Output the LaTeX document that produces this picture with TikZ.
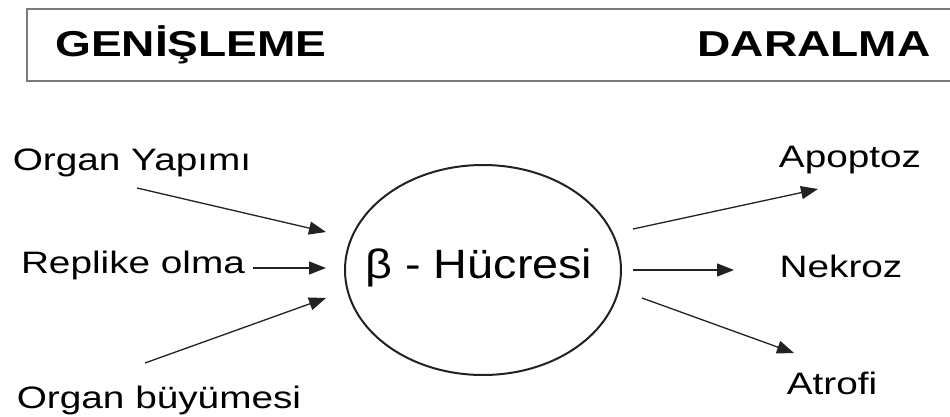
\documentclass[tikz,border=0pt]{standalone}
\usepackage{fontspec}
\setmainfont{Liberation Sans}
\newfontfamily\lblfont[FakeStretch=1.25]{Liberation Sans}
\newfontfamily\hdrfont[FakeStretch=1.28]{Liberation Sans}
\newfontfamily\cellfont[FakeStretch=1.14]{Liberation Sans}
\usetikzlibrary{arrows.meta,shapes.geometric}
\definecolor{ink}{HTML}{222222}
\definecolor{boxgray}{HTML}{7A7A7A}
\tikzset{
  lbl/.style={anchor=base, inner sep=0pt, font=\lblfont\fontsize{31}{31}\selectfont, text=black},
  hdr/.style={anchor=base, inner sep=0pt, font=\hdrfont\bfseries\fontsize{36}{36}\selectfont, text=black},
  conn/.style={draw=ink, line width=1.3pt, -{Triangle[length=17pt,width=13pt]}},
}
\begin{document}
\begin{tikzpicture}[x=1pt,y=-1pt]
\useasboundingbox (0,0) rectangle (950,417);
\fill[white] (0,0) rectangle (950,417);
\begin{scope}
\clip (0,0) rectangle (950,417);
\draw[boxgray, line width=2pt] (27,9) rectangle (960,81);
\end{scope}
\node[hdr] (gen) at (191,57) {GENİŞLEME};
\node[hdr] (dar) at (814,57) {DARALMA};
\node[draw=ink, line width=2pt, ellipse, minimum width=276pt, minimum height=210pt, inner sep=0pt] (cell) at (483,270) {};
\node[anchor=base, inner sep=0pt, font=\cellfont\fontsize{41}{41}\selectfont] (beta) at (479,278) {β - Hücresi};
\node[lbl] (oy) at (132,170) {Organ Yapımı};
\node[lbl] (ro) at (133,273) {Replike olma};
\node[lbl] (ob) at (159,408) {Organ büyümesi};
\node[lbl] (ap) at (850,167) {Apoptoz};
\node[lbl] (ne) at (841,277) {Nekroz};
\node[lbl] (at) at (832,394) {Atrofi};
\coordinate (oyS) at (137,188); \coordinate (oyE) at (326,232);
\coordinate (roS) at (253,268); \coordinate (roE) at (326,268);
\coordinate (obS) at (145,363); \coordinate (obE) at (326,298);
\coordinate (apS) at (633,229); \coordinate (apE) at (818,189);
\coordinate (neS) at (633,270); \coordinate (neE) at (734,270);
\coordinate (atS) at (642,298); \coordinate (atE) at (794,353);
\draw[conn] (oyS) -- (oyE);
\draw[conn] (roS) -- (roE);
\draw[conn] (obS) -- (obE);
\draw[conn] (apS) -- (apE);
\draw[conn] (neS) -- (neE);
\draw[conn] (atS) -- (atE);
\end{tikzpicture}
\end{document}
